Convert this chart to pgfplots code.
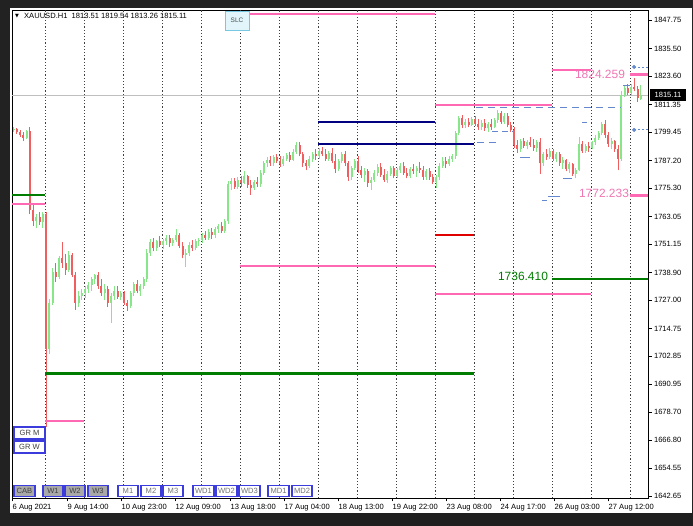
\documentclass[border=0pt]{standalone}
\usepackage{pgfplots}
\pgfplotsset{compat=1.18}
\usepackage{pgfplotstable}
\usepackage{fontspec}
\setmainfont{Liberation Sans}
\newfontfamily\dejavu{DejaVu Sans}
\definecolor{bgdark}{RGB}{34,34,34}
\definecolor{upc}{RGB}{135,230,135}
\definecolor{dnc}{RGB}{240,95,95}
\definecolor{hpink}{RGB}{255,105,180}
\definecolor{tpink}{RGB}{240,120,180}
\definecolor{lvgreen}{RGB}{0,125,0}
\definecolor{lvnavy}{RGB}{0,0,128}
\definecolor{lvred}{RGB}{225,0,0}
\definecolor{sblue}{RGB}{100,135,205}
\definecolor{btnblue}{RGB}{60,60,220}
\definecolor{btngray}{RGB}{168,168,168}
\newcommand\sm{\fontsize{7.6}{9}\selectfont}
\pgfplotstableread{
o h l c
1800.5 1801.5 1799.5 1800.8
1800.8 1801.2 1798.8 1799.5
1799.5 1800.5 1797.5 1798.3
1798.3 1799.5 1795.5 1797.0
1797.0 1800.5 1796.5 1800.0
1800.0 1801.5 1764.0 1766.0
1766.0 1768.0 1759.0 1761.0
1761.0 1764.0 1758.0 1763.0
1763.0 1765.0 1759.5 1760.5
1760.5 1765.0 1758.0 1764.0
1764.0 1765.0 1672.5 1706.0
1706.0 1727.5 1704.0 1726.0
1726.0 1741.0 1725.0 1739.0
1739.0 1743.0 1735.0 1737.0
1737.0 1746.0 1736.0 1745.0
1745.0 1752.0 1741.0 1743.0
1743.0 1747.0 1738.0 1740.0
1740.0 1748.0 1739.0 1746.5
1746.5 1747.5 1737.0 1738.0
1738.0 1739.0 1723.0 1726.0
1726.0 1731.0 1724.0 1729.0
1729.0 1732.0 1727.0 1730.0
1730.0 1733.0 1728.0 1732.0
1732.0 1735.0 1730.0 1733.5
1733.5 1737.0 1731.0 1736.0
1736.0 1738.5 1734.0 1738.0
1738.0 1739.0 1732.0 1733.0
1733.0 1736.0 1729.0 1730.0
1730.0 1734.0 1727.0 1732.0
1732.0 1733.0 1724.0 1726.0
1726.0 1730.0 1717.0 1729.0
1729.0 1733.0 1727.0 1731.0
1731.0 1733.0 1727.5 1728.5
1728.5 1731.0 1727.0 1730.0
1730.0 1731.0 1725.0 1726.0
1726.0 1727.0 1722.5 1724.5
1724.5 1731.0 1723.5 1730.0
1730.0 1735.0 1729.0 1734.0
1734.0 1735.5 1730.0 1731.0
1731.0 1734.0 1729.0 1733.0
1733.0 1737.0 1732.0 1736.0
1736.0 1749.0 1735.0 1747.5
1747.5 1753.5 1746.0 1752.0
1752.0 1754.0 1748.0 1749.5
1749.5 1753.0 1748.0 1752.5
1752.5 1754.5 1750.0 1751.0
1751.0 1753.5 1749.0 1752.5
1752.5 1755.0 1751.0 1754.0
1754.0 1755.0 1750.0 1751.5
1751.5 1754.0 1750.5 1753.0
1753.0 1757.5 1752.0 1755.0
1755.0 1756.0 1749.5 1750.5
1750.5 1752.0 1745.0 1746.5
1746.5 1749.0 1741.5 1747.5
1747.5 1752.0 1746.0 1751.0
1751.0 1753.0 1748.0 1749.5
1749.5 1753.5 1748.5 1752.5
1752.5 1754.0 1750.5 1753.0
1753.0 1756.0 1751.5 1755.0
1755.0 1757.0 1753.0 1754.0
1754.0 1757.5 1753.0 1756.5
1756.5 1758.0 1753.5 1755.0
1755.0 1758.5 1754.0 1757.5
1757.5 1760.0 1756.0 1759.0
1759.0 1760.5 1756.0 1757.0
1757.0 1762.0 1756.0 1761.0
1761.0 1778.5 1760.0 1777.0
1777.0 1779.5 1774.5 1778.5
1778.5 1779.5 1775.0 1776.0
1776.0 1780.0 1775.0 1779.0
1779.0 1780.5 1776.0 1777.5
1777.5 1782.5 1777.0 1780.5
1780.5 1781.0 1775.5 1776.5
1776.5 1779.0 1772.5 1775.5
1775.5 1779.0 1774.5 1778.0
1778.0 1780.0 1776.0 1777.0
1777.0 1783.0 1776.0 1782.0
1782.0 1787.0 1781.0 1786.0
1786.0 1788.5 1784.5 1787.5
1787.5 1789.0 1785.0 1786.0
1786.0 1789.5 1785.0 1788.5
1788.5 1790.0 1786.0 1787.0
1787.0 1789.0 1784.5 1785.5
1785.5 1789.0 1785.0 1788.0
1788.0 1790.5 1787.0 1789.5
1789.5 1791.0 1786.5 1787.5
1787.5 1792.0 1787.0 1791.0
1791.0 1795.0 1790.0 1794.0
1794.0 1795.0 1789.0 1790.0
1790.0 1791.0 1784.5 1786.0
1786.0 1787.5 1783.0 1785.0
1785.0 1789.0 1784.0 1788.0
1788.0 1791.0 1786.5 1790.0
1790.0 1792.0 1787.5 1789.0
1789.0 1792.5 1788.0 1791.5
1791.5 1793.0 1789.0 1790.0
1790.0 1792.0 1787.0 1788.0
1788.0 1791.5 1787.0 1790.5
1790.5 1792.5 1786.0 1787.0
1787.0 1790.0 1782.0 1783.5
1783.5 1788.0 1782.5 1787.0
1787.0 1791.0 1786.0 1790.0
1790.0 1791.5 1785.0 1786.0
1786.0 1787.0 1778.5 1780.0
1780.0 1785.0 1779.0 1784.0
1784.0 1788.0 1783.0 1787.0
1787.0 1789.0 1782.0 1783.0
1783.0 1785.0 1779.5 1781.0
1781.0 1784.0 1778.0 1782.5
1782.5 1783.5 1776.0 1777.5
1777.5 1780.0 1774.5 1779.0
1779.0 1783.0 1778.0 1782.0
1782.0 1785.5 1780.5 1784.5
1784.5 1786.0 1780.0 1781.0
1781.0 1783.5 1778.0 1779.0
1779.0 1782.5 1777.5 1781.5
1781.5 1785.0 1780.5 1784.0
1784.0 1785.0 1779.5 1780.5
1780.5 1784.0 1779.5 1783.0
1783.0 1786.0 1782.0 1785.0
1785.0 1786.5 1781.0 1782.0
1782.0 1784.0 1779.5 1780.5
1780.5 1784.5 1779.5 1783.5
1783.5 1785.5 1781.5 1782.5
1782.5 1785.0 1780.0 1784.0
1784.0 1786.5 1782.0 1783.0
1783.0 1785.0 1779.0 1780.0
1780.0 1783.5 1779.0 1782.5
1782.5 1784.0 1779.0 1780.0
1780.0 1781.5 1777.0 1778.0
1778.0 1781.0 1775.5 1780.0
1780.0 1786.0 1779.0 1785.0
1785.0 1788.5 1784.0 1787.0
1787.0 1788.5 1784.0 1785.5
1785.5 1789.0 1785.0 1788.0
1788.0 1790.0 1786.5 1789.0
1789.0 1800.0 1788.0 1799.0
1799.0 1806.5 1798.0 1805.5
1805.5 1807.0 1801.0 1802.5
1802.5 1805.0 1801.0 1804.0
1804.0 1805.5 1801.5 1802.5
1802.5 1806.0 1802.0 1805.0
1805.0 1806.5 1802.0 1803.0
1803.0 1805.0 1800.5 1801.5
1801.5 1804.5 1800.5 1803.5
1803.5 1805.0 1800.0 1801.0
1801.0 1804.0 1799.5 1803.0
1803.0 1805.0 1800.5 1801.5
1801.5 1805.5 1801.0 1804.5
1804.5 1809.0 1803.5 1807.5
1807.5 1808.5 1803.0 1804.0
1804.0 1807.5 1803.0 1806.5
1806.5 1807.5 1801.5 1802.5
1802.5 1804.0 1799.5 1800.5
1800.5 1801.5 1792.5 1794.0
1794.0 1796.0 1790.5 1792.0
1792.0 1796.5 1791.0 1795.5
1795.5 1797.0 1792.5 1793.5
1793.5 1796.0 1792.0 1795.0
1795.0 1797.5 1793.0 1794.0
1794.0 1796.5 1791.5 1792.5
1792.5 1796.0 1791.0 1795.0
1795.0 1797.0 1781.5 1786.0
1786.0 1791.0 1785.0 1790.0
1790.0 1792.0 1787.5 1788.5
1788.5 1792.5 1788.0 1791.5
1791.5 1792.0 1787.0 1788.0
1788.0 1791.0 1786.5 1790.0
1790.0 1791.0 1785.0 1786.0
1786.0 1788.5 1783.5 1787.5
1787.5 1788.0 1782.5 1783.5
1783.5 1786.5 1782.0 1785.5
1785.5 1786.0 1780.5 1781.5
1781.5 1784.0 1779.5 1783.0
1783.0 1797.5 1782.5 1794.5
1794.5 1795.5 1790.5 1791.5
1791.5 1794.5 1790.5 1793.5
1793.5 1795.0 1791.0 1792.5
1792.5 1795.5 1792.0 1795.0
1795.0 1798.0 1794.0 1797.0
1797.0 1800.0 1796.0 1799.0
1799.0 1804.0 1798.0 1803.0
1803.0 1804.5 1797.0 1798.0
1798.0 1799.5 1793.0 1794.5
1794.5 1797.0 1792.0 1795.5
1795.5 1796.0 1791.0 1792.0
1792.0 1794.0 1783.0 1788.0
1788.0 1817.0 1787.0 1815.5
1815.5 1819.5 1814.5 1818.5
1818.5 1820.0 1815.5 1816.5
1816.5 1820.0 1815.5 1819.0
1819.0 1822.8 1817.0 1818.0
1818.0 1819.5 1812.5 1814.0
1813.51 1819.54 1813.26 1815.11
}\candles
\begin{document}
\begin{tikzpicture}[x=1bp,y=1bp]
\useasboundingbox (0,0) rectangle (693,526);
\fill[bgdark] (0,0) rectangle (693,526);
\fill[black!88] (280,0) rectangle (693,13);
\fill[white] (10,13) rectangle (692,518);
\begin{axis}[
  at={(12bp,28bp)}, anchor=south west,
  width=636bp, height=488bp, scale only axis,
  xmin=0, xmax=391.38, ymin=1641.78, ymax=1852.06,
  axis line style={black, line width=0.7bp},
  axis background/.style={fill=white},
  xtick pos=bottom, ytick pos=right,
  tick align=outside, major tick length=3.5bp,
  tick style={black, line width=0.6bp},
  yticklabel pos=right,
  ytick={1847.75,1835.50,1823.60,1811.35,1799.45,1787.20,1775.30,1763.05,1751.15,1738.90,1727.00,1714.75,1702.85,1690.95,1678.70,1666.80,1654.55,1642.65},
  yticklabels={1847.75,1835.50,1823.60,1811.35,1799.45,1787.20,1775.30,1763.05,1751.15,1738.90,1727.00,1714.75,1702.85,1690.95,1678.70,1666.80,1654.55,1642.65},
  yticklabel style={font=\sm, anchor=west, xshift=-1bp},
  xtick={0,33.85,67.08,100.31,134.15,167.38,200.62,233.85,267.08,300.31,333.54,366.77},
  xticklabels={6 Aug 2021,9 Aug 14:00,10 Aug 23:00,12 Aug 09:00,13 Aug 18:00,17 Aug 04:00,18 Aug 13:00,19 Aug 22:00,23 Aug 08:00,24 Aug 17:00,26 Aug 03:00,27 Aug 12:00},
  xticklabel style={font=\sm, anchor=north west, inner xsep=0.5bp, yshift=1bp},
  extra x ticks={20.31,44.31,68.31,92.31,116.31,140.31,164.31,188.31,212.31,236.31,260.31,284.31,308.31,332.31,356.31,380.31},
  extra x tick labels={},
  extra x tick style={grid=major, major tick length=0pt, major grid style={black!75, line width=0.95bp, dash pattern=on 1.2bp off 2bp}},
]
% current price line
\addplot[black!25, line width=0.6bp] coordinates {(0,1815.11) (391.38,1815.11)};
% candles: wicks
\addplot[upc, only marks, mark=*, mark options={opacity=0}, error bars/.cd, y dir=plus, y explicit, error mark=none, error bar style={upc, line width=0.9bp}]
  table[x expr={\thisrow{c}>=\thisrow{o} ? 2*\coordindex+1 : nan}, y=l, y error plus expr={\thisrow{h}-\thisrow{l}}] {\candles};
\addplot[dnc, only marks, mark=*, mark options={opacity=0}, error bars/.cd, y dir=plus, y explicit, error mark=none, error bar style={dnc, line width=0.9bp}]
  table[x expr={\thisrow{c}<\thisrow{o} ? 2*\coordindex+1 : nan}, y=l, y error plus expr={\thisrow{h}-\thisrow{l}}] {\candles};
% candles: bodies
\addplot[upc, only marks, mark=*, mark options={opacity=0}, error bars/.cd, y dir=plus, y explicit, error mark=none, error bar style={upc, line width=1.9bp}]
  table[x expr={\thisrow{c}>=\thisrow{o} ? 2*\coordindex+1 : nan}, y=o, y error plus expr={max(\thisrow{c}-\thisrow{o},0.3)}] {\candles};
\addplot[dnc, only marks, mark=*, mark options={opacity=0}, error bars/.cd, y dir=plus, y explicit, error mark=none, error bar style={dnc, line width=1.9bp}]
  table[x expr={\thisrow{c}<\thisrow{o} ? 2*\coordindex+1 : nan}, y=c, y error plus expr={max(\thisrow{o}-\thisrow{c},0.3)}] {\candles};
% blue dashed guide lines
\addplot[sblue, line width=0.8bp, dash pattern=on 7bp off 5bp] coordinates {(285.5,1810.3) (374.2,1810.3)};
\addplot[sblue, line width=0.8bp, dash pattern=on 7bp off 5bp] coordinates {(286.2,1794.8) (299.1,1794.8)};
\addplot[sblue, line width=0.8bp, dash pattern=on 6bp off 4bp] coordinates {(295.4,1799.9) (308.3,1799.9)};
\addplot[sblue, line width=0.8bp] coordinates {(312.6,1788.7) (318.8,1788.7)};
\addplot[sblue, line width=0.8bp] coordinates {(350.8,1803.8) (353.8,1803.8)};
\addplot[sblue, line width=0.8bp] coordinates {(339.1,1779.7) (344.6,1779.7)};
\addplot[sblue, line width=0.8bp] coordinates {(329.8,1771.9) (337.2,1771.9)};
\addplot[sblue, line width=0.8bp] coordinates {(326.2,1770.2) (329.2,1770.2)};
\addplot[sblue, line width=0.8bp] coordinates {(376.0,1819.7) (380.3,1819.7)};
\addplot[sblue, line width=0.8bp, dash pattern=on 2bp off 2bp] coordinates {(382.8,1827.5) (391.38,1827.5)};
\addplot[sblue, line width=0.8bp, dash pattern=on 2bp off 2bp] coordinates {(382.8,1800.4) (391.38,1800.4)};
\addplot[sblue, only marks, mark=*, mark size=1.8bp] coordinates {(382.8,1827.5) (382.8,1800.4)};
% level lines
\addplot[hpink, line width=2.5bp] coordinates {(146.46,1850.34) (260.31,1850.34)};
\addplot[lvgreen, line width=2.8bp] coordinates {(0,1772.35) (20.31,1772.35)};
\addplot[hpink, line width=2.8bp] coordinates {(0,1768.47) (20.31,1768.47)};
\addplot[hpink, line width=2.8bp] coordinates {(20.31,1674.96) (44.31,1674.96)};
\addplot[lvgreen, line width=2.8bp] coordinates {(20.31,1695.40) (284.31,1695.40)};
\addplot[hpink, line width=2.8bp] coordinates {(140.31,1741.75) (260.31,1741.75)};
\addplot[lvnavy, line width=2.8bp] coordinates {(188.31,1803.80) (260.31,1803.80)};
\addplot[lvnavy, line width=2.8bp] coordinates {(188.31,1794.32) (284.31,1794.32)};
\addplot[lvred, line width=2.8bp] coordinates {(260.31,1755.11) (284.31,1755.11)};
\addplot[hpink, line width=2.8bp] coordinates {(260.31,1811.13) (332.31,1811.13)};
\addplot[hpink, line width=2.8bp] coordinates {(260.31,1729.68) (356.31,1729.68)};
\addplot[lvgreen, line width=2.8bp] coordinates {(332.31,1736.15) (391.38,1736.15)};
\addplot[hpink, line width=2.8bp] coordinates {(332.31,1826.21) (356.31,1826.21)};
\addplot[hpink, line width=2.8bp] coordinates {(380.31,1824.26) (391.38,1824.26)};
\addplot[hpink, line width=2.8bp] coordinates {(380.31,1772.23) (391.38,1772.23)};
\end{axis}
% level labels
\node[tpink, font=\fontsize{12}{14}\selectfont, inner sep=0pt] at (600,452) {1824.259};
\node[tpink, font=\fontsize{12}{14}\selectfont, inner sep=0pt] at (604,333) {1772.233};
\node[lvgreen, font=\fontsize{12}{14}\selectfont, inner sep=0pt] at (523,250) {1736.410};
% header
\node[anchor=west, inner sep=0pt, font=\fontsize{5}{6}\selectfont\dejavu] at (15,510) {▼};
\node[anchor=west, inner sep=0pt, font=\sm] at (24,510) {XAUUSD.H1\ \ 1813.51 1819.54 1813.26 1815.11};
% SLC button
\draw[fill={rgb,255:red,225;green,245;blue,250}, draw={rgb,255:red,120;green,200;blue,225}, line width=0.8bp] (225,496) rectangle (249,515);
\node[font=\fontsize{6.5}{8}\selectfont, text=black!70] at (237,505.5) {SLC};
% current price box
\fill[black] (650,425) rectangle (686,437);
\node[white, font=\sm, inner sep=0pt] at (668,431) {1815.11};
% GR buttons
\draw[btnblue, fill=white, line width=1.1bp] (14,87) rectangle (45,99);
\node[font=\sm, text=black!75] at (29.5,93) {GR M};
\draw[btnblue, fill=white, line width=1.1bp] (14,73) rectangle (45,85);
\node[font=\sm, text=black!75] at (29.5,79) {GR W};
% bottom buttons
\foreach \a/\b/\t in {14/35/CAB,43/63/W1,65/85/W2,88/108/W3}{
  \draw[btnblue, fill=btngray, line width=1.1bp] (\a,29.5) rectangle (\b,40.5);
  \node[font=\sm, text=black!75] at ({(\a+\b)/2},35) {\t};
}
\foreach \a/\b/\t in {118/138/M1,141/161/M2,163/183/M3,193/214/WD1,216/237/WD2,239/260/WD3,268/289/MD1,292/312/MD2}{
  \draw[btnblue, fill=white, line width=1.1bp] (\a,29.5) rectangle (\b,40.5);
  \node[font=\sm, text=black!55] at ({(\a+\b)/2},35) {\t};
}
\end{tikzpicture}
\end{document}
